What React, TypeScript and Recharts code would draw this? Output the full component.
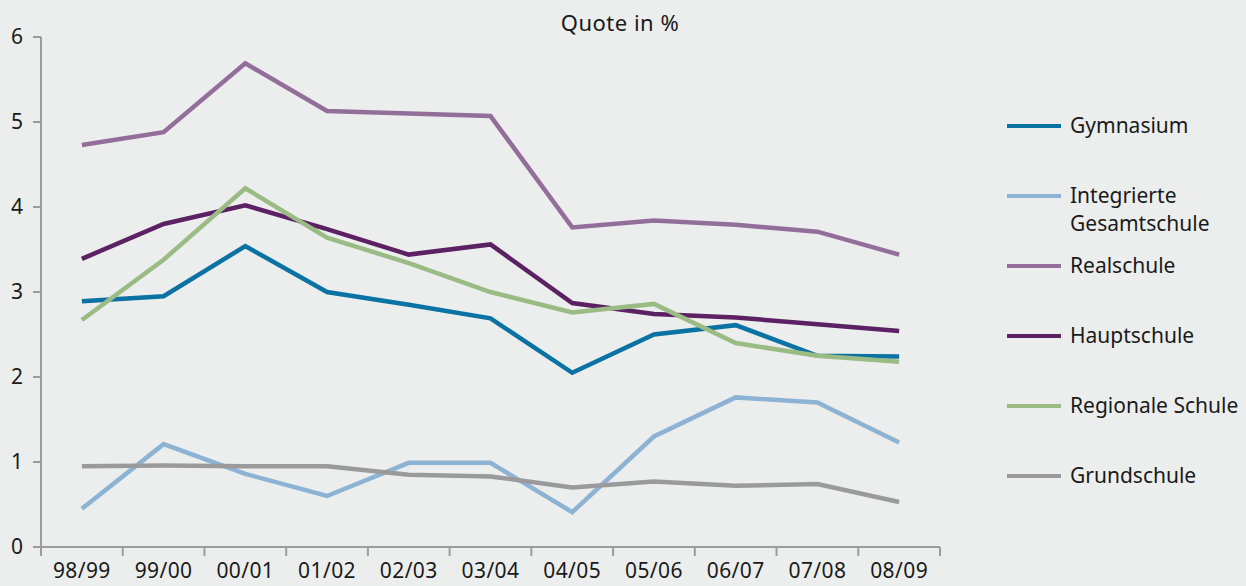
import { LineChart, Line, XAxis, YAxis, Legend } from "recharts";

const categories = [
  "98/99", "99/00", "00/01", "01/02", "02/03", "03/04",
  "04/05", "05/06", "06/07", "07/08", "08/09",
];

const gymnasium = [2.89, 2.95, 3.54, 3.0, 2.85, 2.69, 2.05, 2.5, 2.61, 2.25, 2.24];
const integrierte = [0.45, 1.21, 0.86, 0.6, 0.99, 0.99, 0.41, 1.3, 1.76, 1.7, 1.23];
const realschule = [4.73, 4.88, 5.69, 5.13, 5.1, 5.07, 3.76, 3.84, 3.79, 3.71, 3.44];
const hauptschule = [3.39, 3.8, 4.02, 3.74, 3.44, 3.56, 2.87, 2.74, 2.7, 2.62, 2.54];
const regionale = [2.67, 3.38, 4.22, 3.64, 3.34, 3.0, 2.76, 2.86, 2.4, 2.25, 2.18];
const grundschule = [0.95, 0.96, 0.95, 0.95, 0.85, 0.83, 0.7, 0.77, 0.72, 0.74, 0.53];

const yTicks = [0, 1, 2, 3, 4, 5, 6];

const series = [
  { key: "gym", name: "Gymnasium", color: "#0b72a4", values: gymnasium },
  { key: "igs", name: "Integrierte Gesamtschule", color: "#8db3d4", values: integrierte },
  { key: "real", name: "Realschule", color: "#946e9b", values: realschule },
  { key: "haupt", name: "Hauptschule", color: "#5b2163", values: hauptschule },
  { key: "reg", name: "Regionale Schule", color: "#9bbb85", values: regionale },
  { key: "grund", name: "Grundschule", color: "#9a9a9a", values: grundschule },
];

const data = categories.map((c, i) => {
  const row: any = { x: i + 0.5, cat: c };
  series.forEach((s) => (row[s.key] = s.values[i]));
  return row;
});

// boundaries get a tick mark, band centres get the label
const xTicks: number[] = [];
for (let i = 0; i <= categories.length * 2; i++) xTicks.push(i / 2);

const FONT = "'Noto Sans', 'Open Sans', sans-serif";
const AXIS = "#9c9c9c";
const INK = "#1a1a1a";

function XTick(props: any) {
  const { x, y, payload } = props;
  const v = payload.value;
  if (Number.isInteger(v)) {
    return <line x1={x} y1={y} x2={x} y2={y + 9} stroke={AXIS} strokeWidth={2} />;
  }
  return (
    <text x={x} y={y + 31} textAnchor="middle" fontSize={21} fill={INK} fontFamily={FONT} letterSpacing={0.4}>
      {categories[Math.floor(v)]}
    </text>
  );
}

function LegendBox() {
  const rows = [126, 196, 266, 336, 406, 476];
  return (
    <div style={{ position: "absolute", left: 1007, top: 0, fontFamily: FONT, fontSize: 21, color: INK }}>
      {series.map((s, i) => {
        const lines = s.key === "igs" ? ["Integrierte", "Gesamtschule"] : [s.name];
        return (
          <div key={s.key} style={{ position: "absolute", top: rows[i] - 15, left: 0, width: 240 }}>
            <div style={{ position: "absolute", left: 0, top: 13, width: 54, height: 4, background: s.color }} />
            <div style={{ position: "absolute", left: 63, top: 0, lineHeight: "28px", whiteSpace: "nowrap" }}>
              {lines.map((l) => (
                <div key={l}>{l}</div>
              ))}
            </div>
          </div>
        );
      })}
    </div>
  );
}

export default function App() {
  return (
    <div style={{ position: "relative", width: 1246, height: 586, background: "#eceeed", overflow: "hidden" }}>
      <style>{"body{margin:0}"}</style>
      <span
        style={{
          position: "absolute",
          left: 620,
          top: 7,
          transform: "translateX(-50%)",
          whiteSpace: "nowrap",
          fontFamily: FONT,
          fontSize: 22,
          letterSpacing: 0.5,
          color: INK,
        }}
      >
        Quote in %
      </span>
      <LineChart
        width={1246}
        height={586}
        data={data}
        margin={{ top: 37, right: 306, bottom: 0, left: 0 }}
      >
        <XAxis
          dataKey="x"
          type="number"
          domain={[0, categories.length]}
          ticks={xTicks}
          interval={0}
          height={39}
          tickLine={false}
          tickSize={0}
          tickMargin={0}
          axisLine={{ stroke: AXIS, strokeWidth: 2 }}
          tick={<XTick />}
        />
        <YAxis
          type="number"
          domain={[0, 6]}
          ticks={yTicks}
          width={41}
          tickSize={8}
          tickMargin={10}
          axisLine={{ stroke: AXIS, strokeWidth: 2 }}
          tickLine={{ stroke: AXIS, strokeWidth: 2 }}
          tick={{ fill: INK, fontSize: 21, fontFamily: FONT }}
        />
        {series.map((s) => (
          <Line
            key={s.key}
            dataKey={s.key}
            name={s.name}
            type="linear"
            stroke={s.color}
            strokeWidth={4.5}
            dot={false}
            activeDot={false}
            isAnimationActive={false}
          />
        ))}
        <Legend content={() => null} />
      </LineChart>
      <LegendBox />
    </div>
  );
}
